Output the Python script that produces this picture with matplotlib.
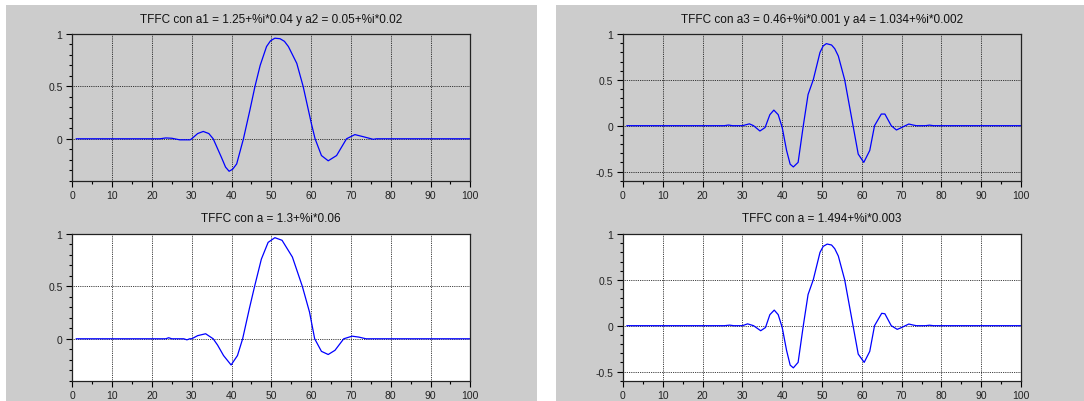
import matplotlib.pyplot as plt
from matplotlib.patches import Rectangle
from matplotlib.ticker import MultipleLocator, FormatStrFormatter
import numpy as np

# ---------------- datos ----------------
# arriba izquierda: a1 = 1.25+%i*0.04 y a2 = 0.05+%i*0.02
tl_x = [1, 22, 23.5, 25, 27, 29.6, 30, 31.5, 32.9, 34.3, 35.4, 37.5, 38.5, 39.4, 40.3, 41.3, 43,
        44.6, 45.9, 47.2, 48.8, 49.8, 50.9, 52.2, 53.3, 54.3, 56.4, 58, 60.1, 61, 62.6, 64.3,
        66.4, 68.9, 71, 73.1, 75.6, 76.4, 100]
tl_y = [0, 0, 0.008, 0.005, -0.01, -0.01, 0, 0.05, 0.07, 0.05, 0, -0.18, -0.27, -0.31, -0.29,
        -0.24, 0, 0.27, 0.5, 0.70, 0.88, 0.935, 0.96, 0.955, 0.93, 0.88, 0.72, 0.5, 0.14, 0,
        -0.16, -0.21, -0.16, 0, 0.04, 0.02, -0.005, 0, 0]

# arriba derecha: a3 = 0.46+%i*0.001 y a4 = 1.034+%i*0.002
tr_x = [1, 25.5, 26.5, 27.5, 30, 31.75, 32.8, 34.4, 35.7, 36.9, 37.9, 39, 40, 41.1, 42, 42.8,
        44, 45.3, 46.5, 47.8, 49.5, 50.3, 51.1, 52.4, 53.2, 54.1, 55.7, 57.8, 59.1, 60.5, 62,
        63.2, 64.9, 65.8, 67.4, 68.7, 70, 71.8, 72.9, 73.7, 76, 77, 78, 100]
tr_y = [0, 0, 0.007, 0, 0, 0.02, 0, -0.058, -0.02, 0.12, 0.17, 0.12, -0.02, -0.27, -0.42, -0.45,
        -0.40, 0, 0.34, 0.5, 0.80, 0.87, 0.895, 0.88, 0.84, 0.76, 0.5, 0, -0.31, -0.40, -0.27,
        0, 0.127, 0.127, 0, -0.047, -0.02, 0.018, 0.007, 0, 0, 0.006, 0, 0]

# abajo izquierda: a = 1.3+%i*0.06
bl_x = [1, 23.5, 24.2, 25, 28, 28.8, 29.5, 30, 31.5, 33.5, 35.4, 36.5, 38, 39.9, 41.5, 42.8,
        44.5, 45.8, 47.5, 49.2, 50.9, 52.7, 55.3, 57.8, 59.6, 60.9, 62.6, 64.3, 66, 68.2, 70.3,
        72, 73.8, 100]
bl_y = [0, 0, 0.01, 0, 0, -0.01, 0, 0, 0.03, 0.048, 0, -0.06, -0.16, -0.25, -0.16, 0, 0.29,
        0.5, 0.76, 0.92, 0.965, 0.94, 0.78, 0.5, 0.255, 0, -0.12, -0.15, -0.11, 0, 0.025,
        0.016, 0, 0]

# abajo derecha: a = 1.494+%i*0.003
br_x = [1, 25.5, 26.8, 27.8, 30, 31.3, 32.8, 34.6, 35.8, 36.9, 38, 39, 40, 41.1, 42, 42.8,
        44, 45.3, 46.5, 47.8, 49.5, 50.3, 51.3, 52.4, 53.2, 54.1, 55.7, 57.8, 59.1, 60.6, 62,
        63.2, 65, 65.8, 67.4, 68.9, 70, 71.8, 72.9, 73.7, 76, 77, 78, 100]
br_y = [0, 0, 0.006, 0, 0, 0.02, 0, -0.055, -0.02, 0.12, 0.17, 0.12, -0.02, -0.27, -0.43,
        -0.46, -0.40, 0, 0.34, 0.5, 0.80, 0.865, 0.89, 0.88, 0.84, 0.76, 0.5, 0, -0.31, -0.40,
        -0.28, 0, 0.135, 0.13, 0, -0.04, -0.02, 0.018, 0.007, 0, 0, 0.005, 0, 0]

titulos = ["TFFC con a1 = 1.25+%i*0.04 y a2 = 0.05+%i*0.02",
           "TFFC con a3 = 0.46+%i*0.001 y a4 = 1.034+%i*0.002",
           "TFFC con a = 1.3+%i*0.06",
           "TFFC con a = 1.494+%i*0.003"]

plt.rcParams['font.family'] = ['Liberation Sans', 'DejaVu Sans']

GRIS = '#cccccc'
W, H = 1084, 402

fig = plt.figure(figsize=(W / 100, H / 100), dpi=100)
fig.patch.set_facecolor('white')

# las dos ventanas grises de Scilab (detras de los ejes)
fig.patches.append(Rectangle((6 / W, 0), (537 - 6) / W, (H - 6) / H, transform=fig.transFigure,
                             facecolor=GRIS, edgecolor='none', zorder=-10))
fig.patches.append(Rectangle((556 / W, 0), (W - 556) / W, (H - 6) / H, transform=fig.transFigure,
                             facecolor=GRIS, edgecolor='none', zorder=-10))


def dibuja(rect, xs, ys, titulo, ymin, fondo):
    ax = fig.add_axes(rect)
    ax.set_facecolor(fondo)
    ax.plot(xs, ys, color='#0000ff', lw=0.9)
    ax.set_xlim(0, 100)
    ax.set_ylim(ymin, 1)
    ax.xaxis.set_major_locator(MultipleLocator(10))
    ax.xaxis.set_minor_locator(MultipleLocator(5))
    ax.yaxis.set_major_locator(MultipleLocator(0.5))
    ax.yaxis.set_minor_locator(MultipleLocator(0.1))
    ax.yaxis.set_major_formatter(FormatStrFormatter('%g'))
    ax.grid(True, which='major', color='black', linestyle=(0, (1, 1.2)), lw=0.6)
    ax.tick_params(which='major', direction='out', length=4, width=0.8, labelsize=7.5,
                   labelcolor='#222222', pad=3)
    ax.tick_params(which='minor', direction='out', length=2.5, width=0.8)
    for s in ax.spines.values():
        s.set_color('#222222')
        s.set_linewidth(0.9)
    ax.set_title(titulo, fontsize=8.5, color='#111111', pad=9)
    return ax


izq, der, ancho = 72.3 / W, 623 / W, 398 / W
alto = 146.7 / H
arriba, abajo = (H - 181.7) / H, (H - 381.7) / H

dibuja([izq, arriba, ancho, alto], tl_x, tl_y, titulos[0], -0.4, GRIS)
dibuja([der, arriba, ancho, alto], tr_x, tr_y, titulos[1], -0.6, GRIS)
dibuja([izq, abajo, ancho, alto], bl_x, bl_y, titulos[2], -0.4, 'white')
dibuja([der, abajo, ancho, alto], br_x, br_y, titulos[3], -0.6, 'white')

fig.savefig('out.png', dpi=100)
